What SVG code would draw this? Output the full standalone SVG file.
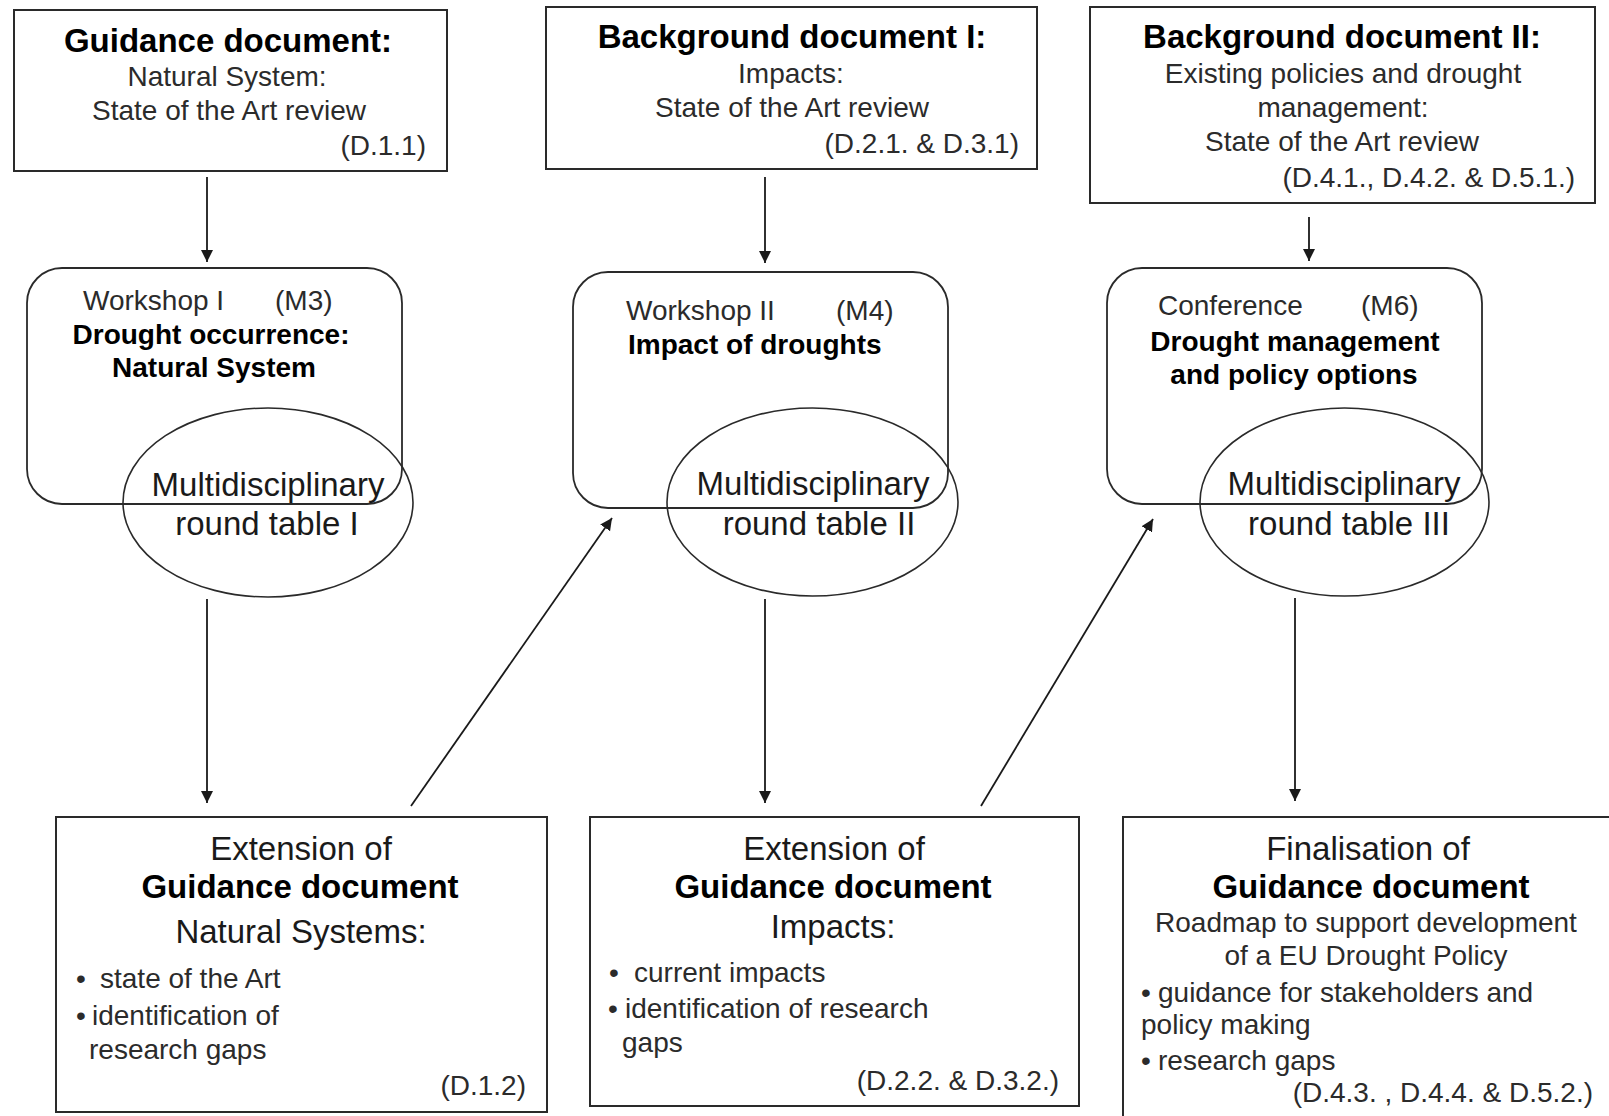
<svg xmlns="http://www.w3.org/2000/svg" width="1609" height="1116" viewBox="0 0 1609 1116">
<style>
.box{fill:none;stroke:#2a2a2a;stroke-width:2}
.rr{fill:none;stroke:#2a2a2a;stroke-width:1.8}
.ell{fill:none;stroke:#2a2a2a;stroke-width:1.6}
.con{fill:none;stroke:#1a1a1a;stroke-width:1.8}
text{font-family:"Liberation Sans",Arial,sans-serif;fill:#1a1a1a}
.t33b{font-size:33px;font-weight:bold;fill:#000}
.t33{font-size:33px}
.t28{font-size:28px;fill:#2b2b2b}
.t28b{font-size:28px;font-weight:bold;fill:#000}
.m{text-anchor:middle}
.e{text-anchor:end}
</style>
<defs>
<marker id="arr" markerUnits="userSpaceOnUse" markerWidth="14" markerHeight="14" refX="12" refY="6" orient="auto">
<path d="M0,0 L12,6 L0,12 z" fill="#1a1a1a"/>
</marker>
</defs>
<rect width="1609" height="1116" fill="#fff"/>

<g id="connectors">
<line class="con" x1="207" y1="177" x2="207" y2="262" marker-end="url(#arr)"/>
<line class="con" x1="765" y1="177" x2="765" y2="263" marker-end="url(#arr)"/>
<line class="con" x1="1309" y1="217" x2="1309" y2="261" marker-end="url(#arr)"/>
<line class="con" x1="207" y1="599" x2="207" y2="803" marker-end="url(#arr)"/>
<line class="con" x1="765" y1="599" x2="765" y2="803" marker-end="url(#arr)"/>
<line class="con" x1="1295" y1="598" x2="1295" y2="801" marker-end="url(#arr)"/>
<line class="con" x1="411" y1="806" x2="612" y2="518" marker-end="url(#arr)"/>
<line class="con" x1="981" y1="806" x2="1153" y2="519" marker-end="url(#arr)"/>
</g>

<g id="guidance-doc">
<rect class="box" x="14" y="10" width="433" height="161"/>
<text class="t33b m" x="228" y="52">Guidance document:</text>
<text class="t28 m" x="227" y="86">Natural System:</text>
<text class="t28 m" x="229" y="120">State of the Art review</text>
<text class="t28 e" x="426" y="155">(D.1.1)</text>
</g>

<g id="background-doc-1">
<rect class="box" x="546" y="7" width="491" height="162"/>
<text class="t33b m" x="792" y="48">Background document I:</text>
<text class="t28 m" x="791" y="83">Impacts:</text>
<text class="t28 m" x="792" y="117">State of the Art review</text>
<text class="t28 e" x="1019" y="153">(D.2.1. &amp; D.3.1)</text>
</g>

<g id="background-doc-2">
<rect class="box" x="1090" y="7" width="505" height="196"/>
<text class="t33b m" x="1342" y="48">Background document II:</text>
<text class="t28 m" x="1343" y="83">Existing policies and drought</text>
<text class="t28 m" x="1343" y="117">management:</text>
<text class="t28 m" x="1342" y="151">State of the Art review</text>
<text class="t28 e" x="1575" y="187">(D.4.1., D.4.2. &amp; D.5.1.)</text>
</g>

<g id="workshop-1">
<rect class="rr" x="27" y="268" width="375" height="236" rx="35" ry="35"/>
<text class="t28" x="83" y="310">Workshop I</text>
<text class="t28" x="275" y="310">(M3)</text>
<text class="t28b m" x="211" y="344">Drought occurrence:</text>
<text class="t28b m" x="214" y="377">Natural System</text>
</g>

<g id="workshop-2">
<rect class="rr" x="573" y="272" width="375" height="236" rx="35" ry="35"/>
<text class="t28" x="626" y="320">Workshop II</text>
<text class="t28" x="836" y="320">(M4)</text>
<text class="t28b" x="628" y="354">Impact of droughts</text>
</g>

<g id="conference">
<rect class="rr" x="1107" y="268" width="375" height="236" rx="35" ry="35"/>
<text class="t28" x="1158" y="315">Conference</text>
<text class="t28" x="1361" y="315">(M6)</text>
<text class="t28b m" x="1295" y="351">Drought management</text>
<text class="t28b m" x="1294" y="384">and policy options</text>
</g>

<g id="round-table-1">
<ellipse class="ell" cx="268" cy="502.5" rx="145" ry="94.5"/>
<text class="t33 m" x="268" y="496">Multidisciplinary</text>
<text class="t33 m" x="267" y="535">round table I</text>
</g>

<g id="round-table-2">
<ellipse class="ell" cx="812.5" cy="502" rx="145.5" ry="94"/>
<text class="t33 m" x="813" y="495">Multidisciplinary</text>
<text class="t33 m" x="819" y="535">round table II</text>
</g>

<g id="round-table-3">
<ellipse class="ell" cx="1344.5" cy="502" rx="144.5" ry="94"/>
<text class="t33 m" x="1344" y="495">Multidisciplinary</text>
<text class="t33 m" x="1349" y="535">round table III</text>
</g>

<g id="extension-1">
<rect class="box" x="56" y="817" width="491" height="295"/>
<text class="t33 m" x="301" y="860">Extension of</text>
<text class="t33b m" x="300" y="898">Guidance document</text>
<text class="t33 m" x="301" y="943">Natural Systems:</text>
<text class="t28" x="76" y="988">•</text>
<text class="t28" x="100" y="988">state of the Art</text>
<text class="t28" x="76" y="1025">•</text>
<text class="t28" x="92" y="1025">identification of</text>
<text class="t28" x="89" y="1059">research gaps</text>
<text class="t28 e" x="526" y="1095">(D.1.2)</text>
</g>

<g id="extension-2">
<rect class="box" x="590" y="817" width="489" height="289"/>
<text class="t33 m" x="834" y="860">Extension of</text>
<text class="t33b m" x="833" y="898">Guidance document</text>
<text class="t33 m" x="833" y="938">Impacts:</text>
<text class="t28" x="609" y="982">•</text>
<text class="t28" x="634" y="982">current impacts</text>
<text class="t28" x="608" y="1018">•</text>
<text class="t28" x="625" y="1018">identification of research</text>
<text class="t28" x="622" y="1052">gaps</text>
<text class="t28 e" x="1059" y="1090">(D.2.2. &amp; D.3.2.)</text>
</g>

<g id="finalisation">
<rect class="box" x="1123" y="817" width="500" height="320"/>
<text class="t33 m" x="1368" y="860">Finalisation of</text>
<text class="t33b m" x="1371" y="898">Guidance document</text>
<text class="t28 m" x="1366" y="932">Roadmap to support development</text>
<text class="t28 m" x="1366" y="965">of a EU Drought Policy</text>
<text class="t28" x="1141" y="1002">•</text>
<text class="t28" x="1158" y="1002">guidance for stakeholders and</text>
<text class="t28" x="1141" y="1034">policy making</text>
<text class="t28" x="1141" y="1070">•</text>
<text class="t28" x="1158" y="1070">research gaps</text>
<text class="t28 e" x="1593" y="1102">(D.4.3. , D.4.4. &amp; D.5.2.)</text>
</g>
</svg>
